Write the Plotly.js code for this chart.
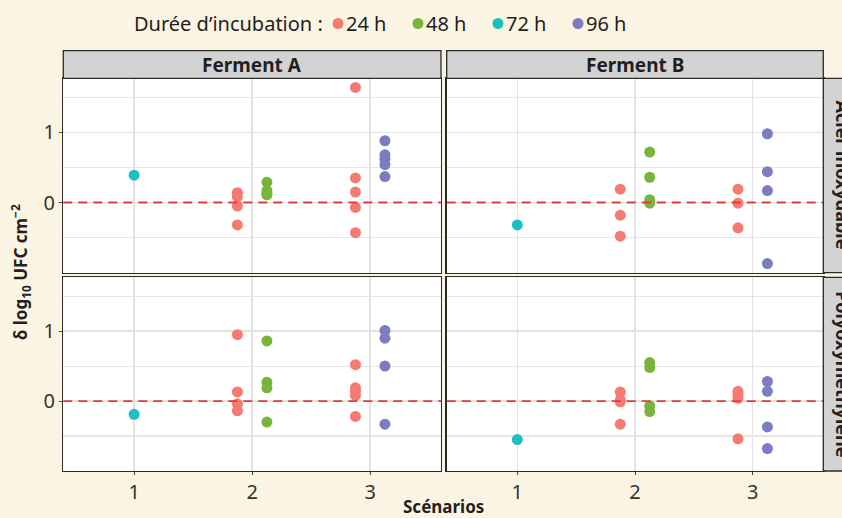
<!DOCTYPE html>
<html>
<head>
<meta charset="utf-8">
<script src="https://cdn.plot.ly/plotly-3.0.1.min.js"></script>
<style>
html,body{margin:0;padding:0;background:#FCF4E3;}
#chart{width:842px;height:518px;}
</style>
</head>
<body>
<div id="chart"></div>
<script>
// ---------- DATA ----------
const scenarioTicks = [1, 2, 3];
const scenarioLabels = ['1', '2', '3'];
const durations = ['24 h', '48 h', '72 h', '96 h'];
const durationColors = ['#F47A72', '#7AB43C', '#1EBFC3', '#7A7DC0'];
const ferments = ['Ferment A', 'Ferment B'];
const supports = ['Acier inoxydable', 'Polyoxyméthylène'];

// Acier inoxydable – Ferment A
const acierA_24h_x = [2, 2, 2, 2, 3, 3, 3, 3, 3];
const acierA_24h_y = [0.14, 0.08, -0.05, -0.32, 1.64, 0.35, 0.15, -0.07, -0.43];
const acierA_48h_x = [2, 2, 2, 2];
const acierA_48h_y = [0.29, 0.17, 0.13, 0.11];
const acierA_72h_x = [1];
const acierA_72h_y = [0.39];
const acierA_96h_x = [3, 3, 3, 3, 3];
const acierA_96h_y = [0.88, 0.68, 0.62, 0.54, 0.37];

// Acier inoxydable – Ferment B
const acierB_24h_x = [2, 2, 2, 3, 3, 3];
const acierB_24h_y = [0.19, -0.18, -0.48, 0.19, -0.01, -0.36];
const acierB_48h_x = [2, 2, 2, 2];
const acierB_48h_y = [0.72, 0.36, 0.04, -0.01];
const acierB_72h_x = [1];
const acierB_72h_y = [-0.32];
const acierB_96h_x = [3, 3, 3, 3];
const acierB_96h_y = [0.98, 0.44, 0.17, -0.87];

// Polyoxyméthylène – Ferment A
const polyA_24h_x = [2, 2, 2, 2, 3, 3, 3, 3, 3];
const polyA_24h_y = [0.95, 0.13, -0.04, -0.14, 0.52, 0.19, 0.14, 0.08, -0.22];
const polyA_48h_x = [2, 2, 2, 2];
const polyA_48h_y = [0.86, 0.27, 0.19, -0.30];
const polyA_72h_x = [1];
const polyA_72h_y = [-0.19];
const polyA_96h_x = [3, 3, 3, 3];
const polyA_96h_y = [1.01, 0.90, 0.50, -0.33];

// Polyoxyméthylène – Ferment B
const polyB_24h_x = [2, 2, 2, 2, 3, 3, 3, 3];
const polyB_24h_y = [0.13, 0.02, -0.01, -0.33, 0.14, 0.09, 0.04, -0.54];
const polyB_48h_x = [2, 2, 2, 2];
const polyB_48h_y = [0.55, 0.48, -0.07, -0.15];
const polyB_72h_x = [1];
const polyB_72h_y = [-0.55];
const polyB_96h_x = [3, 3, 3, 3];
const polyB_96h_y = [0.28, 0.14, -0.37, -0.68];

// ---------- LAYOUT HELPERS ----------
const W = 842, H = 518;
const px = v => v / W;
const py = v => 1 - v / H;
const colPx = [[63.3, 441], [446.7, 823.3]];
const rowPx = [[78.3, 272.7], [277.3, 471]];
const FONT = '"Noto Sans", "Open Sans", sans-serif';
const INK = '#231F20';

const panels = [
  {row: 0, col: 0, data: [[acierA_24h_x, acierA_24h_y], [acierA_48h_x, acierA_48h_y], [acierA_72h_x, acierA_72h_y], [acierA_96h_x, acierA_96h_y]]},
  {row: 0, col: 1, data: [[acierB_24h_x, acierB_24h_y], [acierB_48h_x, acierB_48h_y], [acierB_72h_x, acierB_72h_y], [acierB_96h_x, acierB_96h_y]]},
  {row: 1, col: 0, data: [[polyA_24h_x, polyA_24h_y], [polyA_48h_x, polyA_48h_y], [polyA_72h_x, polyA_72h_y], [polyA_96h_x, polyA_96h_y]]},
  {row: 1, col: 1, data: [[polyB_24h_x, polyB_24h_y], [polyB_48h_x, polyB_48h_y], [polyB_72h_x, polyB_72h_y], [polyB_96h_x, polyB_96h_y]]}
];

const dodgeWidth = 0.25;
const traces = [];
durations.forEach((dur, d) => {
  panels.forEach((p, pi) => {
    // position dodge among durations present at the same scenario
    const xs = p.data[d][0];
    const xd = xs.map(s => {
      const present = [];
      p.data.forEach((dd, k) => { if (dd[0].includes(s)) present.push(k); });
      const idx = present.indexOf(d);
      return s + (idx - (present.length - 1) / 2) * dodgeWidth;
    });
    const n = pi + 1;
    traces.push({
      type: 'scatter', mode: 'markers',
      x: xd, y: p.data[d][1],
      xaxis: n === 1 ? 'x' : 'x' + n,
      yaxis: n === 1 ? 'y' : 'y' + n,
      name: dur, legendgroup: dur, showlegend: false,
      marker: {color: durationColors[d], size: 11, line: {width: 0}},
      hoverinfo: 'skip'
    });
  });
});

const layout = {
  width: W, height: H,
  paper_bgcolor: '#FCF4E3', plot_bgcolor: '#FFFFFF',
  margin: {l: 0, r: 0, t: 0, b: 0, pad: 0},
  font: {family: FONT, color: INK},
  showlegend: false,
  shapes: [], annotations: []
};

panels.forEach((p, pi) => {
  const n = pi + 1;
  const xk = n === 1 ? 'xaxis' : 'xaxis' + n;
  const yk = n === 1 ? 'yaxis' : 'yaxis' + n;
  const xr = n === 1 ? 'x' : 'x' + n;
  const yr = n === 1 ? 'y' : 'y' + n;
  const xd = [px(colPx[p.col][0]), px(colPx[p.col][1])];
  const yd = [py(rowPx[p.row][1]), py(rowPx[p.row][0])];
  layout[xk] = {
    domain: xd, anchor: yr, range: [0.4, 3.6],
    tickmode: 'array', tickvals: scenarioTicks, ticktext: scenarioLabels,
    showticklabels: p.row === 1, ticks: p.row === 1 ? 'outside' : '', ticklen: 3, tickcolor: '#444',
    tickfont: {size: 20, family: FONT, color: '#333'},
    showgrid: true, gridcolor: '#E2E2E2', gridwidth: 1.4, zeroline: false,
    showline: true, mirror: true, linecolor: '#2B2B2B', linewidth: 1.3
  };
  layout[yk] = {
    domain: yd, anchor: xr, range: [-1.0, 1.77],
    tickmode: 'array', tickvals: [0, 1], ticktext: ['0', '1'],
    showticklabels: p.col === 0, ticks: p.col === 0 ? 'outside' : '', ticklen: 3, tickcolor: '#444',
    tickfont: {size: 20, family: FONT, color: '#333'},
    showgrid: true, gridcolor: '#E2E2E2', gridwidth: 1.4, zeroline: false,
    minor: {tickmode: 'array', tickvals: [-0.5, 0.5, 1.5], showgrid: true, gridcolor: '#E6E6E6', gridwidth: 1.1, ticks: ''},
    showline: true, mirror: true, linecolor: '#2B2B2B', linewidth: 1.3
  };
  layout.shapes.push({
    type: 'line', xref: xr + ' domain', yref: yr, x0: 0, x1: 1, y0: 0, y1: 0,
    line: {color: '#E8383A', width: 1.8, dash: '9px,6px'}, layer: 'above'
  });
});

// facet strips (top)
ferments.forEach((f, c) => {
  layout.shapes.push({
    type: 'rect', xref: 'paper', yref: 'paper',
    x0: px(colPx[c][0]), x1: px(colPx[c][1]), y0: py(78.3), y1: py(50.7),
    fillcolor: '#D3D3D3', line: {color: '#2B2B2B', width: 1.3}
  });
  layout.annotations.push({
    xref: 'paper', yref: 'paper', x: px((colPx[c][0] + colPx[c][1]) / 2), y: py(64.5),
    text: '<b>' + f + '</b>', showarrow: false, xanchor: 'center', yanchor: 'middle',
    font: {size: 19, family: FONT, color: INK}
  });
});
// facet strips (right, cut by the picture edge as in the reference)
supports.forEach((s, r) => {
  layout.shapes.push({
    type: 'rect', xref: 'paper', yref: 'paper',
    x0: px(823.3), x1: px(870), y0: py(rowPx[r][1]), y1: py(rowPx[r][0]),
    fillcolor: '#D3D3D3', line: {color: '#2B2B2B', width: 1.3}
  });
  layout.annotations.push({
    xref: 'paper', yref: 'paper', x: px(843), y: py((rowPx[r][0] + rowPx[r][1]) / 2),
    text: '<b>' + s + '</b>', showarrow: false, textangle: 90, xanchor: 'center', yanchor: 'middle',
    font: {size: 18, family: FONT, color: INK}
  });
});

// legend (drawn at the top, as in the reference)
layout.annotations.push({
  xref: 'paper', yref: 'paper', x: px(132), y: py(23),
  text: 'Durée d’incubation :', showarrow: false, xanchor: 'left', yanchor: 'middle',
  font: {size: 20, family: FONT, color: INK}
});
durations.forEach((dur, d) => {
  const cx = 338 + 80 * d, cy = 23.5, r = 5.5;
  layout.shapes.push({
    type: 'circle', xref: 'paper', yref: 'paper',
    x0: px(cx - r), x1: px(cx + r), y0: py(cy + r), y1: py(cy - r),
    fillcolor: durationColors[d], line: {width: 0}
  });
  layout.annotations.push({
    xref: 'paper', yref: 'paper', x: px(cx + 6), y: py(23),
    text: dur, showarrow: false, xanchor: 'left', yanchor: 'middle',
    font: {size: 20, family: FONT, color: INK}
  });
});

// axis titles
layout.annotations.push({
  xref: 'paper', yref: 'paper', x: px(443), y: py(506),
  text: '<b>Scénarios</b>', showarrow: false, xanchor: 'center', yanchor: 'middle',
  font: {size: 17, family: FONT, color: INK}
});
layout.annotations.push({
  xref: 'paper', yref: 'paper', x: px(20), y: py(272),
  text: '<b>δ log<sub>10</sub> UFC cm<sup>−2</sup></b>', showarrow: false, textangle: -90,
  xanchor: 'center', yanchor: 'middle',
  font: {size: 17, family: FONT, color: INK}
});

Plotly.newPlot('chart', traces, layout, {staticPlot: true, displayModeBar: false});
</script>
</body>
</html>
